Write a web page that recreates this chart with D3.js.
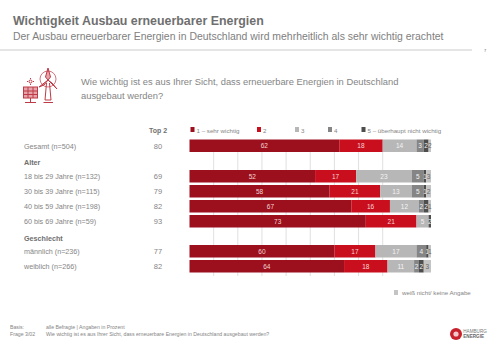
<!DOCTYPE html>
<html><head><meta charset="utf-8">
<script src="https://cdn.jsdelivr.net/npm/d3@7"></script>
<style>html,body{margin:0;padding:0;background:#fff}svg{display:block}text{font-family:"Liberation Sans",Arial,sans-serif}</style>
</head><body><svg id="c" width="500" height="353"></svg>
<script>
const rowLabels=["Gesamt (n=504)","18 bis 29 Jahre (n=132)","30 bis 39 Jahre (n=115)","40 bis 59 Jahre (n=198)","60 bis 69 Jahre (n=59)","männlich (n=236)","weiblich (n=266)"];
const top2=[80,69,79,82,93,77,82];
const seriesNames=["1 – sehr wichtig","2","3","4","5 – überhaupt nicht wichtig"];
const s1=[62,52,58,67,73,60,64];
const s2=[18,17,21,16,21,17,18];
const s3=[14,23,13,12,5,17,11];
const s4=[3,5,5,2,0,4,2];
const s5=[2,1,1,2,2,1,2];
const s6=[2,3,2,1,0,1,3];
const colors=["#9c0f1c","#c90f1e","#b7b7b7","#858585","#4d4d4d","#c4c4c4"];
const textCols=["#f3d5d5","#f3d5d5","#f4f4f4","#f4f4f4","#f4f4f4","#666"];
const groupHeads=["Alter","Geschlecht"];
const gridTicks=[10,20,30,40,50,60,70,80];
const rowTops=[139.5,170,185,200,215,245,260];
const svg=d3.select("#c");
const x=d3.scaleLinear().domain([0,100]).range([189.5,431]);
const T=(px,py,t,o={})=>svg.append("text").attr("x",px).attr("y",py).text(t)
  .attr("font-size",o.s||6.5).attr("fill",o.c||"#858585").attr("font-weight",o.w||400).attr("text-anchor",o.a||"start");
T(13,24.5,"Wichtigkeit Ausbau erneuerbarer Energien",{s:12.4,c:"#6f6f6f",w:700});
T(13,40,"Der Ausbau erneuerbarer Energien in Deutschland wird mehrheitlich als sehr wichtig erachtet",{s:10.45,c:"#808080"});
svg.append("line").attr("x1",0).attr("x2",472).attr("y1",50).attr("y2",50).attr("stroke","#a8a8a8").attr("stroke-width",.6);
T(485,52,"7",{s:4,c:"#666",a:"middle"});
T(81,85,"Wie wichtig ist es aus Ihrer Sicht, dass erneuerbare Energien in Deutschland",{s:9.35});
T(81,99,"ausgebaut werden?",{s:9.35});
// icon
const ic=svg.append("g").attr("stroke","#bd3a46").attr("fill","none").attr("stroke-width",1);
ic.append("rect").attr("x",23.5).attr("y",87).attr("width",14).attr("height",11).attr("fill","#e6a3a9");
ic.append("path").attr("d","M23.5 91H37.5M23.5 94.5H37.5M28 87V98M33 87V98M30.5 98V102M25 102.5H36");
ic.append("circle").attr("cx",30.5).attr("cy",81.5).attr("r",1.5);
ic.append("path").attr("d","M30.5 78V79M30.5 84V85M27 81.5H28M33 81.5H34");
ic.append("path").attr("d","M48 68L45.5 77L48 80L50.5 77ZM48 80L39 87L44 85ZM48 80L57 89L52 83Z").attr("fill","#e6a3a9");
ic.append("path").attr("d","M46.5 83L45 100H51L49.5 83M43.5 102.5H53");
ic.append("circle").attr("cx",48).attr("cy",79).attr("r",8).attr("stroke-width",.7);
// grid
svg.append("g").selectAll("line").data(gridTicks).join("line")
 .attr("x1",d=>x(d)).attr("x2",d=>x(d)).attr("y1",152).attr("y2",276).attr("stroke","#d2d2d2").attr("stroke-width",.7);
// header/legend
T(158,133,"Top 2",{s:7,c:"#6f6f6f",w:700,a:"middle"});
const legX=[190.5,257,295,328,361.5];
seriesNames.forEach((n,i)=>{
 svg.append("rect").attr("x",legX[i]).attr("y",127).attr("width",4).attr("height",5).attr("fill",colors[i]);
 T(legX[i]+6,132.5,n,{s:6.2});
});
rowLabels.forEach((l,i)=>{
 const y=rowTops[i]+9;
 T(24,y,l,{s:7.2});
 T(158,y,top2[i],{s:7.5,a:"middle"});
});
T(24,165,groupHeads[0],{s:7.2,c:"#6f6f6f",w:700});
T(24,240.5,groupHeads[1],{s:7.2,c:"#6f6f6f",w:700});
const all=[s1,s2,s3,s4,s5,s6];
const rows=svg.append("g").selectAll("g").data(rowLabels).join("g");
rows.each(function(_,r){
 let c=0;const g=d3.select(this);
 all.forEach((s,k)=>{
  const v=s[r];const a=c;c+=v;if(!v)return;
  const x0=Math.min(x(a),431),x1=Math.min(x(c),431);
  g.append("rect").attr("x",x0).attr("y",rowTops[r]).attr("width",Math.max(0,x1-x0)).attr("height",12.5).attr("fill",colors[k]);
  g.append("text").attr("x",(x0+x1)/2).attr("y",rowTops[r]+8.8).attr("text-anchor","middle").attr("font-size",6.5).attr("fill",textCols[k]).text(v);
 });
});
svg.append("rect").attr("x",394).attr("y",290).attr("width",4).attr("height",5).attr("fill",colors[5]);
T(402,295,"weiß nicht/ keine Angabe",{s:6.2});
T(10,328.5,"Basis:",{s:5.2});T(46,328.5,"alle Befragte | Angaben in Prozent",{s:5.2});
T(10,336,"Frage 3/02",{s:5.2});T(46,336,"Wie wichtig ist es aus Ihrer Sicht, dass erneuerbare Energien in Deutschland ausgebaut werden?",{s:5.2});
svg.append("circle").attr("cx",456).attr("cy",334).attr("r",6).attr("fill","#c8202c");
svg.append("circle").attr("cx",456).attr("cy",334).attr("r",2.6).attr("fill","#f2c9cb");
T(463.3,332.5,"HAMBURG",{s:4.6,c:"#777"});T(463.3,337.5,"ENERGIE",{s:4.6,c:"#666",w:700});
</script></body></html>
